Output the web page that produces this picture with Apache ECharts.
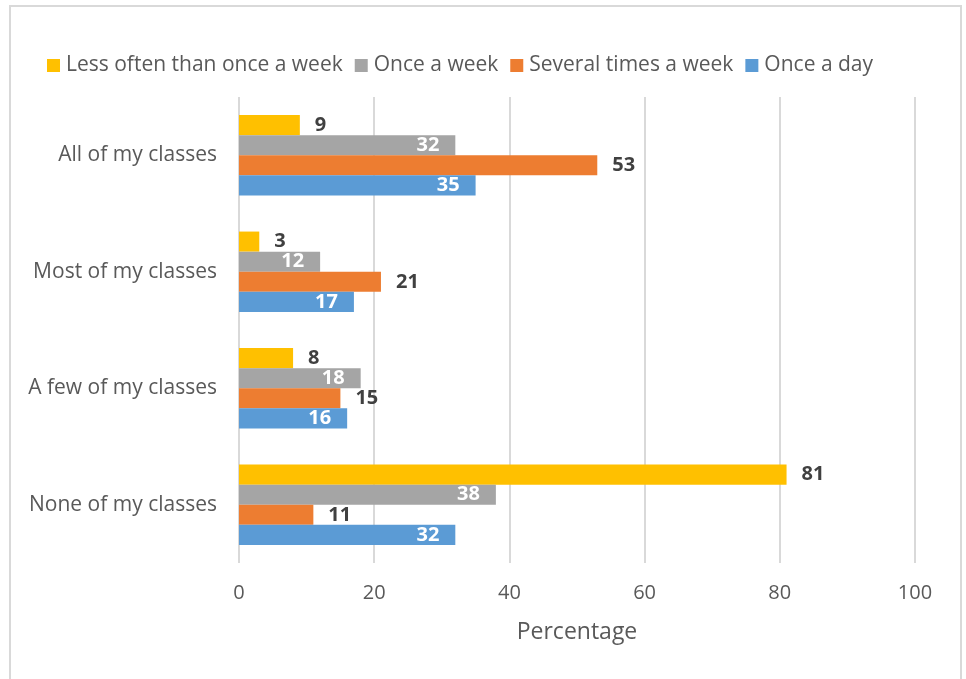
<!DOCTYPE html>
<html>
<head>
<meta charset="utf-8">
<script src="https://cdn.jsdelivr.net/npm/echarts@6/dist/echarts.min.js"></script>
<style>
html,body{margin:0;padding:0;background:#fff;}
#chart{width:966px;height:679px;}
</style>
</head>
<body>
<div id="chart"></div>
<script>
const categories = ['None of my classes', 'A few of my classes', 'Most of my classes', 'All of my classes'];
const seriesNames = ['Less often than once a week', 'Once a week', 'Several times a week', 'Once a day'];
const lessOften = [81, 8, 3, 9];
const onceWeek = [38, 18, 12, 32];
const severalWeek = [11, 15, 21, 53];
const onceDay = [32, 16, 17, 35];
const xTicks = [0, 20, 40, 60, 80, 100];

const colors = ['#FFC000', '#A5A5A5', '#ED7D31', '#5B9BD5'];
const values = [lessOften, onceWeek, severalWeek, onceDay];
const inside = [false, true, false, true];
const FONT = '"Open Sans", "Noto Sans", sans-serif';

const chart = echarts.init(document.getElementById('chart'), null, {renderer: 'canvas'});
chart.setOption({
  animation: false,
  textStyle: {fontFamily: FONT},
  graphic: [{
    type: 'rect',
    shape: {x: 10, y: 6, width: 951, height: 700},
    style: {fill: 'none', stroke: '#D9D9D9', lineWidth: 2},
    silent: true
  }],
  legend: {
    left: 42, top: 50,
    itemWidth: 13, itemHeight: 13, itemGap: 12,
    icon: 'rect',
    textStyle: {fontSize: 21, color: '#595959', fontFamily: FONT, padding: [0, 0, 0, 1]},
    data: seriesNames
  },
  grid: {left: 239, right: 51, top: 97, bottom: 116, containLabel: false},
  xAxis: {
    type: 'value', min: 0, max: 100, interval: 20,
    name: 'Percentage', nameLocation: 'middle', nameGap: 58,
    nameTextStyle: {fontSize: 23, color: '#595959', fontFamily: FONT},
    axisLine: {show: false},
    axisTick: {show: false},
    axisLabel: {fontSize: 20, color: '#595959', margin: 20, fontFamily: FONT,
      formatter: v => xTicks.includes(v) ? String(v) : ''},
    splitLine: {show: true, lineStyle: {color: '#D9D9D9', width: 2}}
  },
  yAxis: {
    type: 'category', data: categories,
    axisLine: {show: false},
    axisTick: {show: false},
    axisLabel: {fontSize: 21, color: '#595959', margin: 22, fontFamily: FONT}
  },
  series: seriesNames.map((name, i) => ({
    name: name,
    type: 'bar',
    data: values[i],
    barGap: '0%',
    barCategoryGap: '31%',
    itemStyle: {color: colors[i]},
    label: {
      show: true,
      position: inside[i] ? 'insideRight' : 'right',
      distance: inside[i] ? 16 : 15,
      color: inside[i] ? '#FFFFFF' : '#404040',
      fontWeight: 'bold',
      fontSize: 20,
      fontFamily: FONT
    }
  }))
});
</script>
</body>
</html>
